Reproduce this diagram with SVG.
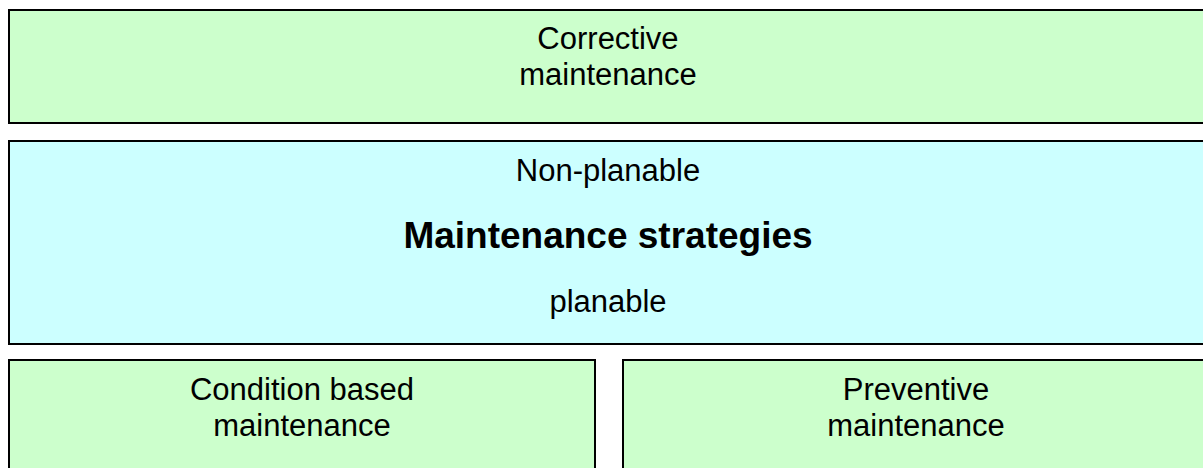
<svg xmlns="http://www.w3.org/2000/svg" width="1203" height="468" viewBox="0 0 1203 468">
  <style>
    .box { stroke: #000000; stroke-width: 2; }
    .green { fill: #CCFFCC; }
    .cyan { fill: #CCFFFF; }
    .label { font-family: "Liberation Sans", Arial, sans-serif; font-size: 31px; fill: #000000; text-anchor: middle; }
    .title { font-family: "Liberation Sans", Arial, sans-serif; font-size: 37px; font-weight: bold; fill: #000000; text-anchor: middle; }
  </style>
  <rect x="0" y="0" width="1203" height="468" fill="#FFFFFF"/>

  <g id="corrective">
    <rect class="box green" x="9" y="10" width="1198" height="113"/>
    <text class="label" x="608" y="49">Corrective</text>
    <text class="label" x="608" y="85">maintenance</text>
  </g>

  <g id="strategies">
    <rect class="box cyan" x="9" y="141" width="1198" height="203"/>
    <text class="label" x="608" y="181">Non-planable</text>
    <text class="title" x="608" y="248">Maintenance strategies</text>
    <text class="label" x="608" y="312">planable</text>
  </g>

  <g id="condition-based">
    <rect class="box green" x="9" y="360" width="586" height="120"/>
    <text class="label" x="302" y="400">Condition based</text>
    <text class="label" x="302" y="436">maintenance</text>
  </g>

  <g id="preventive">
    <rect class="box green" x="623" y="360" width="586" height="120"/>
    <text class="label" x="916" y="400">Preventive</text>
    <text class="label" x="916" y="436">maintenance</text>
  </g>

  <g id="connectors"></g>
</svg>
